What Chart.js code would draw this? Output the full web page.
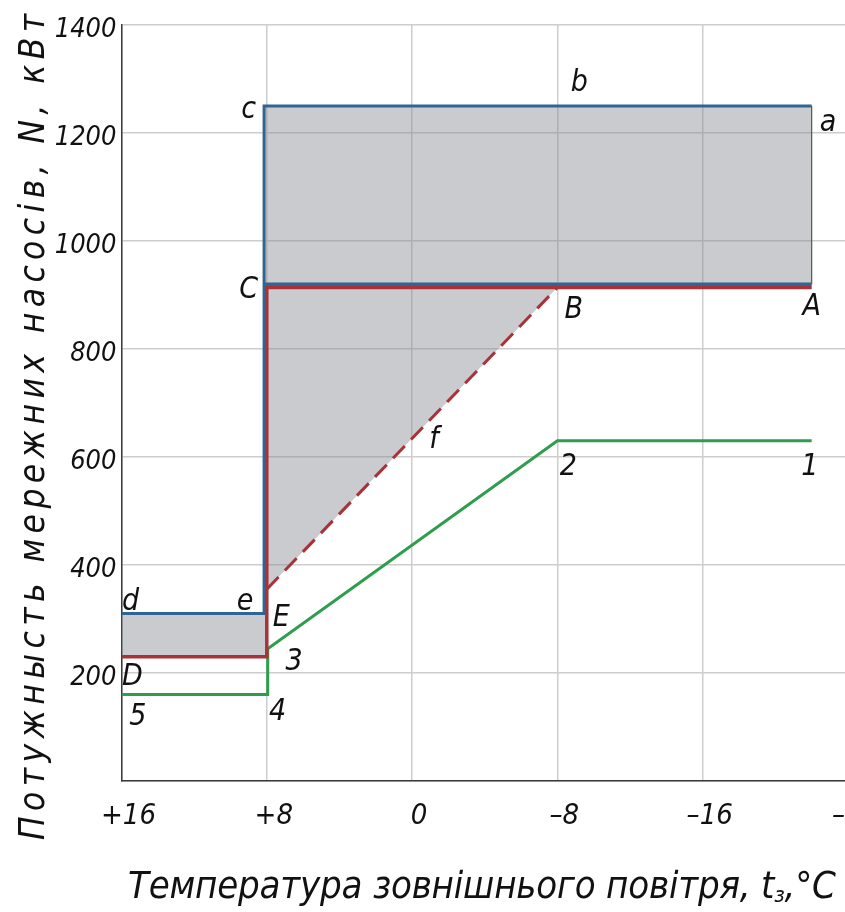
<!DOCTYPE html>
<html><head><meta charset="utf-8">
<script src="https://cdn.jsdelivr.net/npm/chart.js@4.4.1/dist/chart.umd.min.js"></script>
<style>html,body{margin:0;padding:0;background:#fff;overflow:hidden;width:845px;height:912px}canvas{display:block}</style>
</head><body><canvas id="c" width="875" height="912"></canvas>
<script>
// ---- data ----
const xTickValues = [16, 8, 0, -8, -16, -24];
const xTickLabels = ['+16', '+8', '0', '–8', '–16', '–24'];
const yTickValues = [0, 200, 400, 600, 800, 1000, 1200, 1400];
const yTickLabels = ['', '200', '400', '600', '800', '1000', '1200', '1400'];

// blue outline a - c - e - d and mid line C - A
const blueOuterX = [-22, 8.15, 8.15, 16];
const blueOuterY = [1250, 1250, 310, 310];
const blueMidX = [8.15, -22];
const blueMidY = [920, 920];
// red D - E - C - A and dashed E - B
const redX = [16, 8, 8, -22];
const redY = [230, 230, 914, 914];
const redDashX = [8, -8];
const redDashY = [355, 914];
// green 5 - 4 - 3 - 2 - 1
const greenX = [16, 7.95, 7.95, -8, -22];
const greenY = [160, 160, 245, 630, 630];
// right edge of the upper zone
const edgeX = [-22, -22];
const edgeY = [1250, 920];
// grey zones
const zoneTopX = [8.15, -22, -22, 8.15];
const zoneTopY = [1250, 1250, 920, 920];
const zoneTriX = [8, -8, 8];
const zoneTriY = [914, 914, 355];
const zoneLowX = [16, 8, 8, 16];
const zoneLowY = [310, 310, 230, 230];
// point letters
const pointLabels = ['a', 'b', 'c', 'A', 'B', 'C', 'd', 'e', 'E', 'D', 'f', '1', '2', '3', '4', '5'];
const pointLabelX = [-22.9, -9.2, 9.0, -22.0, -8.9, 9.0, 15.5, 9.2, 7.2, 15.4, -1.2, -21.9, -8.6, 6.5, 7.4, 15.1];
const pointLabelY = [1218, 1293, 1243, 878, 872, 909, 332, 332, 302, 193, 632, 582, 582, 220, 128, 119];

const xTitle = 'Температура зовнішнього повітря, t';
const xTitleSub = 'з';
const xTitleEnd = ',°C';
const yTitle = 'Потужнысть мережних насосів, N, кВт';

// ---- helpers ----
const FAM = '"Liberation Sans Narrow", "DejaVu Sans Condensed", sans-serif';
const zip = (xs, ys) => xs.map((x, i) => ({x: x, y: ys[i]}));
const BLUE = '#2f6593', RED = '#a83238', GREEN = '#2f9d4e';
const ZONE = 'rgba(138,140,146,0.45)';

function lineDs(xs, ys, color, width, extra) {
  return Object.assign({data: zip(xs, ys), borderColor: color, borderWidth: width,
    pointRadius: 0, fill: false, tension: 0, borderJoinStyle: 'miter', borderCapStyle: 'butt'}, extra || {});
}
function zoneDs(xs, ys) {
  return {data: zip(xs, ys), borderWidth: 0, borderColor: 'rgba(0,0,0,0)', backgroundColor: ZONE,
    pointRadius: 0, fill: 'shape', tension: 0, order: 10};
}

// draw a sequence of segments [{t, size, dy}] spread to a target width
function drawSpread(ctx, segs, x0, y0, target) {
  let natural = 0, n = 0;
  segs.forEach(s => { ctx.font = 'italic ' + s.size + 'px ' + FAM;
    for (const ch of s.t) { natural += ctx.measureText(ch).width; n++; } });
  const sp = (target - natural) / (n - 1);
  let x = x0;
  segs.forEach(s => { ctx.font = 'italic ' + s.size + 'px ' + FAM;
    for (const ch of s.t) { ctx.fillText(ch, x, y0 + (s.dy || 0)); x += ctx.measureText(ch).width + sp; } });
}

const annot = {
  id: 'annot',
  afterDatasetsDraw(chart) {
    const ctx = chart.ctx, xs = chart.scales.x, ys = chart.scales.y;
    ctx.save();
    ctx.fillStyle = '#111';
    ctx.font = 'italic 30px ' + FAM;
    ctx.textAlign = 'center';
    ctx.textBaseline = 'middle';
    pointLabels.forEach((t, i) => {
      ctx.fillText(t, xs.getPixelForValue(pointLabelX[i]), ys.getPixelForValue(pointLabelY[i]));
    });
    ctx.restore();
  },
  afterDraw(chart) {
    const ctx = chart.ctx;
    ctx.save();
    ctx.fillStyle = '#111';
    ctx.textAlign = 'left';
    ctx.textBaseline = 'alphabetic';
    drawSpread(ctx, [{t: xTitle, size: 38}, {t: xTitleSub, size: 22, dy: 4}, {t: xTitleEnd, size: 38}], 128, 898, 708);
    ctx.translate(44, 840);
    ctx.rotate(-Math.PI / 2);
    drawSpread(ctx, [{t: yTitle, size: 35}], 0, 0, 826);
    ctx.restore();
  }
};

const xTickFont = {family: FAM, size: 29, style: 'italic'};
const yTickFont = {family: FAM, size: 27, style: 'italic'};

new Chart(document.getElementById('c'), {
  type: 'line',
  data: {
    datasets: [
      lineDs(blueMidX, blueMidY, BLUE, 3.5),
      lineDs(redX, redY, RED, 3.5),
      lineDs(blueOuterX, blueOuterY, BLUE, 3),
      lineDs(redDashX, redDashY, RED, 3, {borderDash: [17, 9]}),
      lineDs(greenX, greenY, GREEN, 3),
      lineDs(edgeX, edgeY, '#555', 1.2),
      zoneDs(zoneTopX, zoneTopY),
      zoneDs(zoneTriX, zoneTriY),
      zoneDs(zoneLowX, zoneLowY)
    ]
  },
  options: {
    responsive: false,
    animation: false,
    layout: {padding: {top: 25, right: 27, left: 0, bottom: 0}},
    plugins: {legend: {display: false}, tooltip: {enabled: false}, filler: {drawTime: 'beforeDatasetsDraw'}},
    scales: {
      x: {
        type: 'linear', reverse: true, min: -24, max: 16,
        afterBuildTicks: s => { s.ticks = xTickValues.map(v => ({value: v})); },
        afterFit: s => { s.height = 131; s.paddingLeft = 0; s.paddingRight = 0; },
        grid: {color: '#cdcdcd', lineWidth: 1.5, drawTicks: false},
        border: {display: true, color: '#3a3a3a', width: 1.5},
        ticks: {font: xTickFont, color: '#111', padding: 18, labelOffset: 7, maxRotation: 0, autoSkip: false,
          callback: v => xTickLabels[xTickValues.indexOf(v)]}
      },
      y: {
        type: 'linear', min: 0, max: 1400,
        afterBuildTicks: s => { s.ticks = yTickValues.map(v => ({value: v})); },
        afterFit: s => { s.width = 121.5; s.paddingTop = 0; s.paddingBottom = 0; },
        grid: {color: '#cdcdcd', lineWidth: 1.5, drawTicks: false},
        border: {display: true, color: '#3a3a3a', width: 1.5},
        ticks: {font: yTickFont, color: '#111', padding: 5, labelOffset: 5, autoSkip: false,
          callback: v => yTickLabels[yTickValues.indexOf(v)]}
      }
    }
  },
  plugins: [annot]
});
</script>
</body></html>
